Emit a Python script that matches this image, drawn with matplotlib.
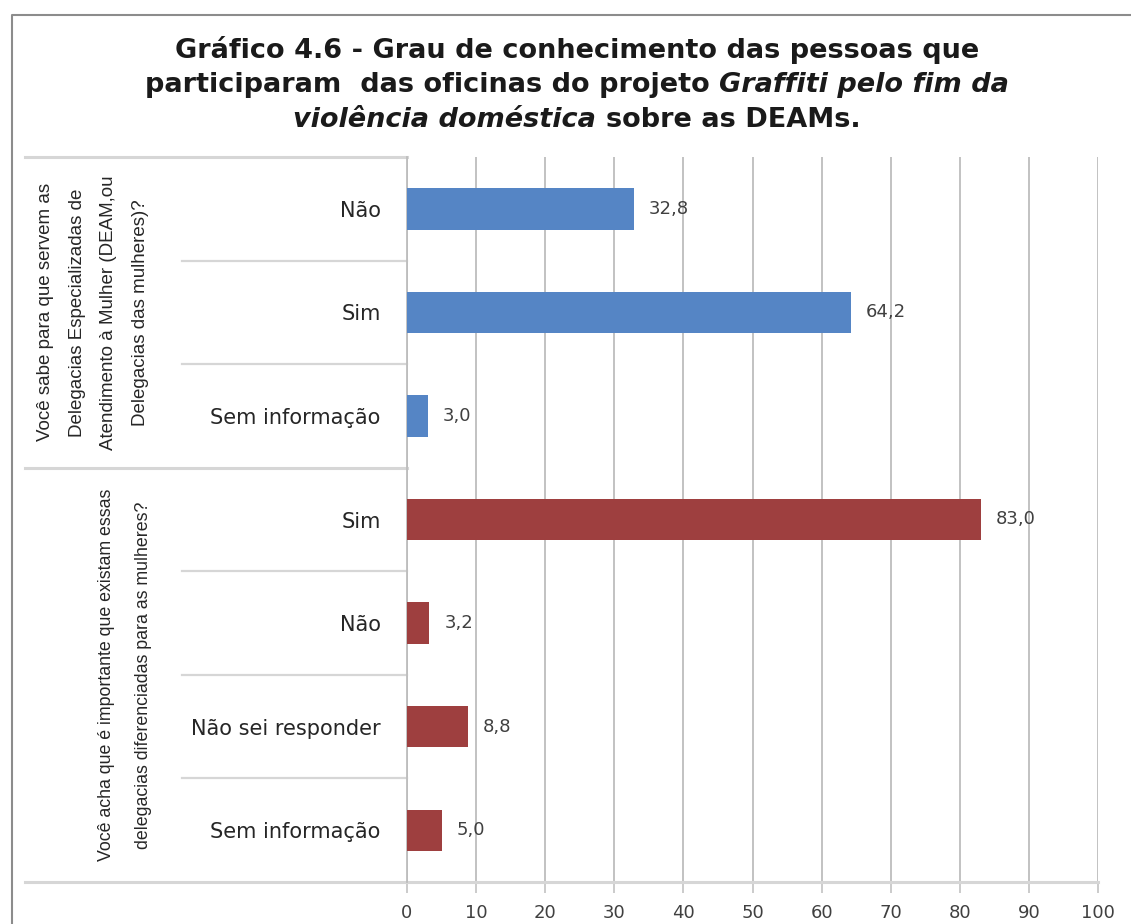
import matplotlib.pyplot as plt
from matplotlib.lines import Line2D
from matplotlib.transforms import blended_transform_factory
import numpy as np

# data (percent)
q1_labels = ["Não", "Sim", "Sem informação"]
q1_values = [32.8, 64.2, 3.0]
q2_labels = ["Sim", "Não", "Não sei responder", "Sem informação"]
q2_values = [83.0, 3.2, 8.8, 5.0]

q1_title = ("Você sabe para que servem as\nDelegacias Especializadas de\n"
            "Atendimento à Mulher (DEAM,ou\nDelegacias das mulheres)?")
q2_title = ("Você acha que é importante que existam essas\n"
            "delegacias diferenciadas para as mulheres?")

x_ticks = list(range(0, 101, 10))

BLUE = "#5585C5"
RED = "#9E3F3F"
GRID = "#BDBDBD"
SEP = "#D6D6D6"
TEXT = "#404040"

W, H = 1131, 924
fig = plt.figure(figsize=(W / 100, H / 100), dpi=100)
ax = fig.add_axes([407 / W, 1 - 882 / H, 691 / W, 725 / H])

labels = q1_labels + q2_labels
values = q1_values + q2_values
colors = [BLUE] * len(q1_values) + [RED] * len(q2_values)
y = np.arange(len(values))

ax.barh(y, values, height=0.4, color=colors, zorder=3)
ax.set_ylim(len(values) - 0.5, -0.5)
ax.set_xlim(0, 100)
ax.set_xticks(x_ticks)
ax.set_yticks(y, labels)
ax.grid(axis="x", color=GRID, lw=1.3, zorder=0)
ax.tick_params(axis="y", length=0, pad=19, labelsize=15, labelcolor="#262626")
ax.tick_params(axis="x", length=8, width=1.1, color=GRID, pad=8,
               labelsize=13, labelcolor=TEXT)
for side in ["top", "right", "bottom"]:
    ax.spines[side].set_visible(False)
ax.spines["left"].set_color(GRID)
ax.spines["left"].set_linewidth(1.3)

for yi, v in zip(y, values):
    ax.annotate(f"{v:.1f}".replace(".", ","), (v, yi), xytext=(11, 0),
                textcoords="offset points", va="center", ha="left",
                fontsize=13, color=TEXT)

# separators in the category area
tr = blended_transform_factory(ax.transAxes, ax.transData)
left_full = (25 - 407) / 691
left_short = (182 - 407) / 691
n1 = len(q1_values)
n = len(values)
for b in [-0.5, n1 - 0.5, n - 0.5]:
    ax.add_line(Line2D([left_full, 0 if b != n - 0.5 else 1], [b, b],
                       transform=tr, color=SEP, lw=2.2, clip_on=False))
for b in list(np.arange(0.5, n1 - 1)) + list(np.arange(n1 + 0.5, n - 1)):
    ax.add_line(Line2D([left_short, 0], [b, b], transform=tr, color=SEP,
                       lw=1.6, clip_on=False))

narrow = ["Liberation Sans", "DejaVu Sans"]
ax.text((93 - 407) / 691, (n1 - 1) / 2, q1_title, transform=tr, rotation=90,
        ha="center", va="center", multialignment="center", fontsize=13.5,
        family=narrow, color="#262626", linespacing=2.15)
ax.text((125 - 407) / 691, n1 + (n - n1 - 1) / 2, q2_title, transform=tr,
        rotation=90, ha="center", va="center", multialignment="center",
        fontsize=12.8, family=narrow, color="#262626", linespacing=2.5)

# title with italic pieces
title_lines = [
    (50, [("Gráfico 4.6 - Grau de conhecimento das pessoas que", "normal")]),
    (85, [("participaram  das oficinas do projeto", "normal"),
          ("Graffiti pelo fim da", "italic")]),
    (120, [("violência doméstica", "italic"), ("sobre as DEAMs.", "normal")]),
]
renderer = fig.canvas.get_renderer()
title_size = 19.5
gap = 0.36 * title_size * 100 / 72
for ypix, parts in title_lines:
    texts = [fig.text(0, 1 - ypix / H, s, fontsize=title_size,
                      fontweight="bold", fontstyle=st, va="center",
                      color="#1A1A1A") for s, st in parts]
    widths = [t.get_window_extent(renderer).width for t in texts]
    x = 577 - (sum(widths) + gap * (len(widths) - 1)) / 2
    for t, w in zip(texts, widths):
        t.set_x(x / W)
        x += w + gap

# outer chart frame
fig.add_artist(Line2D([12 / W, 12 / W, 1], [0, 1 - 15 / H, 1 - 15 / H],
                      transform=fig.transFigure, color="#8C8C8C", lw=1.5))

fig.savefig("out.png", dpi=100)
